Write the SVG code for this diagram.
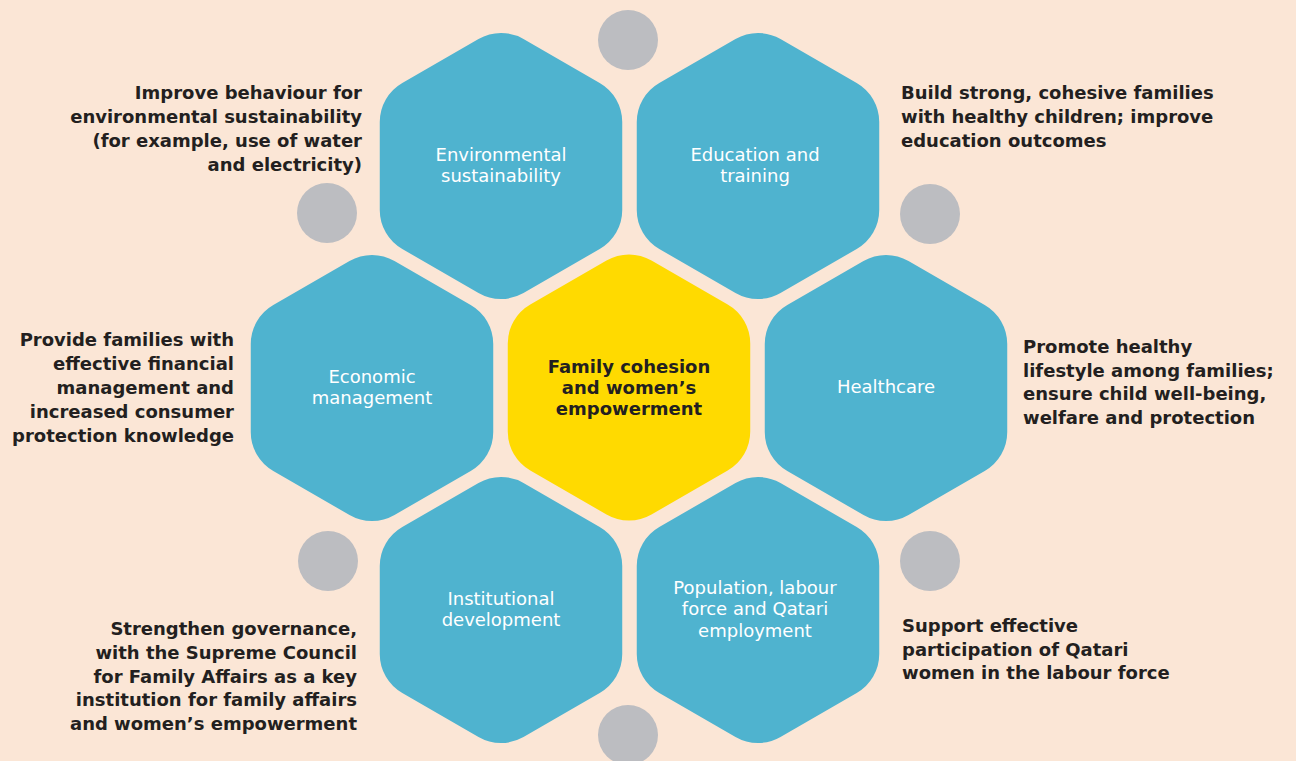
<svg xmlns="http://www.w3.org/2000/svg" width="1296" height="761" viewBox="0 0 1296 761">
<style>
.hb{fill:#4FB3CF}
.hy{fill:#FFDA00}
.dot{fill:#BCBDC1}
.hl{font-family:"DejaVu Sans","Liberation Sans",Arial,sans-serif;font-size:18px;fill:#FFFFFF;text-anchor:middle}
.cl{font-family:"DejaVu Sans","Liberation Sans",Arial,sans-serif;font-size:18px;font-weight:bold;fill:#231F20;text-anchor:middle}
.sd{font-family:"DejaVu Sans","Liberation Sans",Arial,sans-serif;font-size:18px;font-weight:bold;fill:#231F20}
.r{text-anchor:end}
.l{text-anchor:start}
</style>
<defs>
<path id="hex" d="M-22.5,-127 A45,45 0 0 1 22.5,-127 L98.7,-83 A45,45 0 0 1 121.24,-44 L121.24,44 A45,45 0 0 1 98.7,83 L22.5,127 A45,45 0 0 1 -22.5,127 L-98.7,83 A45,45 0 0 1 -121.24,44 L-121.24,-44 A45,45 0 0 1 -98.7,-83 Z"/>
</defs>
<rect width="1296" height="761" fill="#FBE6D6"/>
<g id="connectors">
<circle class="dot" cx="628" cy="40" r="30"/>
<circle class="dot" cx="327" cy="213" r="30"/>
<circle class="dot" cx="930" cy="214" r="30"/>
<circle class="dot" cx="328" cy="561" r="30"/>
<circle class="dot" cx="930" cy="561" r="30"/>
<circle class="dot" cx="628" cy="735" r="30"/>
</g>
<g id="center">
<use href="#hex" class="hy" x="629" y="387.5"/>
<text class="cl" x="629" y="373">Family cohesion</text>
<text class="cl" x="629" y="394">and women’s</text>
<text class="cl" x="629" y="415">empowerment</text>
</g>
<g id="environmental">
<use href="#hex" class="hb" x="501" y="166"/>
<text class="hl" x="501" y="161">Environmental</text>
<text class="hl" x="501" y="182">sustainability</text>
</g>
<g id="education">
<use href="#hex" class="hb" x="758" y="166"/>
<text class="hl" x="755" y="161">Education and</text>
<text class="hl" x="755" y="182">training</text>
</g>
<g id="economic">
<use href="#hex" class="hb" x="372" y="388"/>
<text class="hl" x="372" y="383">Economic</text>
<text class="hl" x="372" y="404">management</text>
</g>
<g id="healthcare">
<use href="#hex" class="hb" x="886" y="388"/>
<text class="hl" x="886" y="393">Healthcare</text>
</g>
<g id="institutional">
<use href="#hex" class="hb" x="501" y="610"/>
<text class="hl" x="501" y="605">Institutional</text>
<text class="hl" x="501" y="626">development</text>
</g>
<g id="population">
<use href="#hex" class="hb" x="758" y="610"/>
<text class="hl" x="755" y="594">Population, labour</text>
<text class="hl" x="755" y="615">force and Qatari</text>
<text class="hl" x="755" y="637">employment</text>
</g>
<g id="note-environmental">
<text class="sd r" x="362" y="99">Improve behaviour for</text>
<text class="sd r" x="362" y="123">environmental sustainability</text>
<text class="sd r" x="362" y="147">(for example, use of water</text>
<text class="sd r" x="362" y="171">and electricity)</text>
</g>
<g id="note-education">
<text class="sd l" x="901" y="99">Build strong, cohesive families</text>
<text class="sd l" x="901" y="123">with healthy children; improve</text>
<text class="sd l" x="901" y="147">education outcomes</text>
</g>
<g id="note-economic">
<text class="sd r" x="234" y="346">Provide families with</text>
<text class="sd r" x="234" y="370">effective financial</text>
<text class="sd r" x="234" y="394">management and</text>
<text class="sd r" x="234" y="418">increased consumer</text>
<text class="sd r" x="234" y="442">protection knowledge</text>
</g>
<g id="note-healthcare">
<text class="sd l" x="1023" y="353">Promote healthy</text>
<text class="sd l" x="1023" y="377">lifestyle among families;</text>
<text class="sd l" x="1023" y="400">ensure child well-being,</text>
<text class="sd l" x="1023" y="424">welfare and protection</text>
</g>
<g id="note-institutional">
<text class="sd r" x="357" y="635">Strengthen governance,</text>
<text class="sd r" x="357" y="659">with the Supreme Council</text>
<text class="sd r" x="357" y="683">for Family Affairs as a key</text>
<text class="sd r" x="357" y="706">institution for family affairs</text>
<text class="sd r" x="357" y="730">and women’s empowerment</text>
</g>
<g id="note-population">
<text class="sd l" x="902" y="632">Support effective</text>
<text class="sd l" x="902" y="656">participation of Qatari</text>
<text class="sd l" x="902" y="679">women in the labour force</text>
</g>
</svg>
